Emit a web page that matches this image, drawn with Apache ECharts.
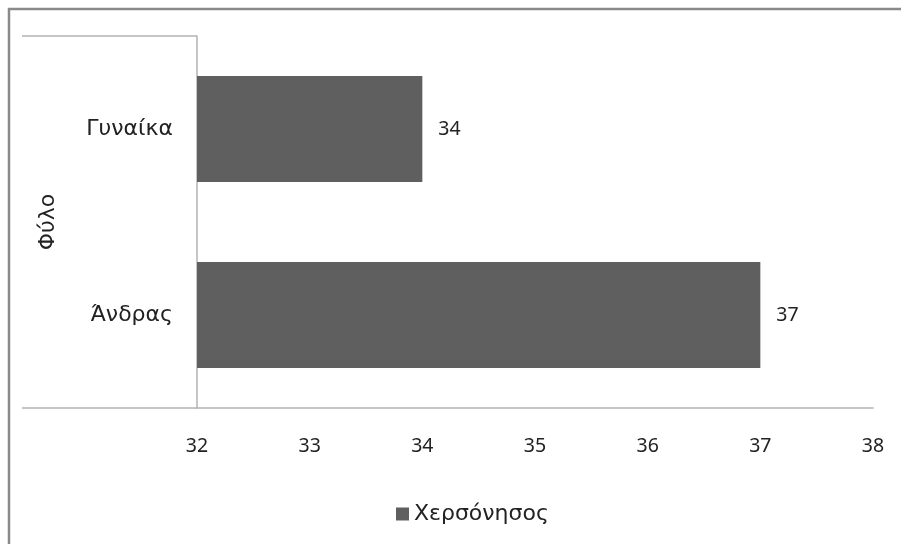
<!DOCTYPE html>
<html>
<head>
<meta charset="utf-8">
<script src="https://cdn.jsdelivr.net/npm/echarts@6/dist/echarts.min.js"></script>
<style>
html,body{margin:0;padding:0;background:#fff;}
#c{width:901px;height:544px;}
</style>
</head>
<body>
<div id="c"></div>
<script>
var categories = ['Άνδρας', 'Γυναίκα'];
var values = [37, 34];
var seriesName = 'Χερσόνησος';
var axisTitle = 'Φύλο';
var xMin = 32, xMax = 38, xStep = 1;

var FONT = '"Noto Sans", "Open Sans", sans-serif';
var GFONT = '"DejaVu Sans", sans-serif';
var gridL = 197, gridT = 36, gridR = 28, gridB = 136;
var W = 901, H = 544;
var chart = echarts.init(document.getElementById('c'), null, {renderer: 'canvas'});
chart.setOption({
  animation: false,
  backgroundColor: '#fff',
  textStyle: {fontFamily: FONT},
  grid: {left: gridL, top: gridT, right: gridR, bottom: gridB, containLabel: false},
  legend: {
    data: [seriesName],
    bottom: 14,
    left: 391,
    itemWidth: 13,
    itemHeight: 13,
    itemGap: 6,
    icon: 'rect',
    textStyle: {fontSize: 22, color: '#222', fontFamily: GFONT}
  },
  xAxis: {
    type: 'value',
    min: xMin, max: xMax, interval: xStep,
    axisLine: {show: true, lineStyle: {color: '#b3b3b3', width: 1.5}},
    axisTick: {show: false},
    splitLine: {show: false},
    axisLabel: {fontSize: 19.5, color: '#222', margin: 28, fontFamily: FONT}
  },
  yAxis: {
    type: 'category',
    data: categories,
    name: axisTitle,
    nameLocation: 'middle',
    nameRotate: 90,
    nameGap: 138,
    nameTextStyle: {fontSize: 22, color: '#222', fontFamily: GFONT},
    axisLine: {show: true, lineStyle: {color: '#b3b3b3', width: 1.5}},
    axisTick: {show: false},
    axisLabel: {fontSize: 22, color: '#222', margin: 24, fontFamily: GFONT}
  },
  series: [{
    name: seriesName,
    type: 'bar',
    data: values,
    barCategoryGap: '43%',
    itemStyle: {color: '#5f5f5f'},
    label: {show: true, position: 'right', distance: 16, fontSize: 19.5, color: '#222', fontFamily: FONT}
  }],
  graphic: [
    {type: 'rect', shape: {x: 9, y: 9, width: 2000, height: 2000}, style: {fill: 'none', stroke: '#8a8a8a', lineWidth: 2.5}, silent: true},
    {type: 'line', shape: {x1: 22, y1: gridT, x2: gridL, y2: gridT}, style: {stroke: '#b3b3b3', lineWidth: 1.5}, silent: true},
    {type: 'line', shape: {x1: 22, y1: H - gridB, x2: gridL, y2: H - gridB}, style: {stroke: '#b3b3b3', lineWidth: 1.5}, silent: true}
  ]
});
</script>
</body>
</html>
